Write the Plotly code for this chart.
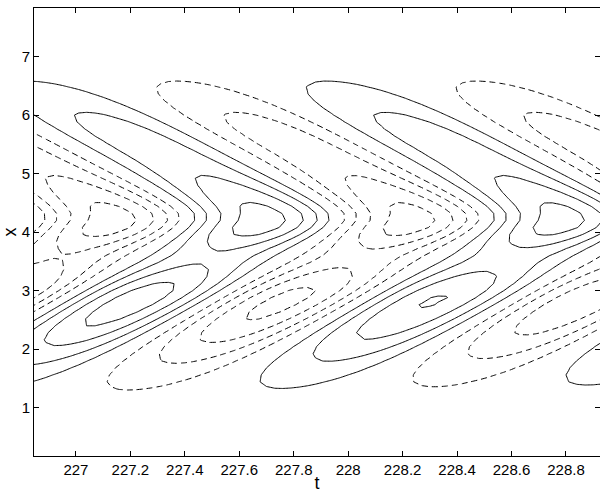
import numpy as np
import plotly.graph_objects as go

# Axis ticks
t_ticks = [227.0, 227.2, 227.4, 227.6, 227.8, 228.0, 228.2, 228.4, 228.6, 228.8]
t_tick_labels = ["227", "227.2", "227.4", "227.6", "227.8", "228", "228.2", "228.4", "228.6", "228.8"]
x_ticks = [1, 2, 3, 4, 5, 6, 7]
t_range = [226.846, 228.925]
x_range = [0.174, 7.83]

# Contour levels: positive drawn solid, negative drawn dashed
pos_levels = [0.15, 0.37, 0.6, 0.82]
neg_levels = [-0.15, -0.37, -0.6, -0.82]

# Wave pattern: chevron-shaped bands travelling in towards x = centre_x
period = 1.1            # time between successive crests on the centre line
crest_time = 227.685    # time of a positive crest on the centre line
centre_x = 4.25
slope_below = 2.65      # |dx/dt| of the bands below the centre line
slope_above = 2.47      # |dx/dt| of the bands above the centre line
kink_round = 0.2

# Amplitude envelope across x: lower band, centre line, upper band
env_centres = [2.85, 4.15, 5.6]
env_amps = [0.90, 0.82, 0.47]
env_width_below = [1.14, 0.45, 1.0]
env_width_above = [0.8, 0.8, 0.92]
env_amp_trend = [-0.1, 0.0, 0.0]   # change of amplitude per unit t

t = np.arange(226.80, 229.0, 0.03)
x = np.arange(0.0, 8.01, 0.12)
T, X = np.meshgrid(t, x)

omega = 2 * np.pi / period
k = np.where(X < centre_x, omega / slope_below, omega / slope_above)
dist = np.sqrt((X - centre_x) ** 2 + kink_round ** 2) - kink_round
env = np.zeros_like(X)
for c, a, wb, wa, tr in zip(env_centres, env_amps, env_width_below, env_width_above, env_amp_trend):
    w = np.where(X < c, wb, wa)
    env += (a + tr * (T - crest_time)) * np.exp(-((X - c) / w) ** 2)
Z = env * np.cos(omega * (T - crest_time) + k * dist)

fig = go.Figure()
for levels, dash in ((pos_levels, "solid"), (neg_levels, "6px,4px")):
    for lev in levels:
        fig.add_trace(go.Contour(
            x=t, y=x, z=Z,
            autocontour=False,
            contours=dict(start=lev, end=lev, size=1, coloring="none", showlabels=False),
            line=dict(color="black", width=1, dash=dash, smoothing=0),
            showscale=False, hoverinfo="skip",
        ))

axis_common = dict(
    showline=True, linecolor="black", linewidth=1, mirror="ticks",
    ticks="inside", ticklen=5, tickcolor="black", tickwidth=1,
    showgrid=False, zeroline=False,
)
fig.update_layout(
    width=600, height=493,
    margin=dict(l=34, r=0, t=8, b=37),
    paper_bgcolor="white", plot_bgcolor="white",
    font=dict(family="Liberation Sans, Arial, sans-serif", size=15, color="black"),
    showlegend=False,
    xaxis=dict(range=t_range, tickvals=t_ticks, ticktext=t_tick_labels,
               title=dict(text="t", standoff=2), **axis_common),
    yaxis=dict(range=x_range, tickvals=x_ticks,
               title=dict(text="x", standoff=4), **axis_common),
)
fig.write_html("out.html")
